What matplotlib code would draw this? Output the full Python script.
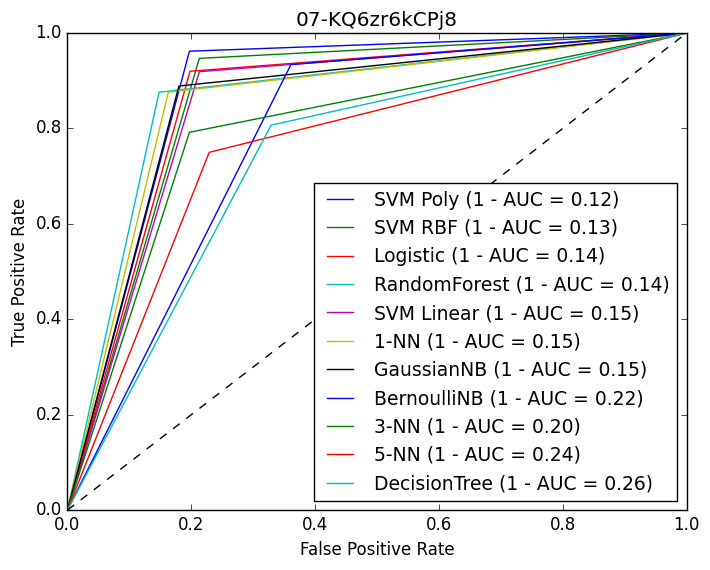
import matplotlib
matplotlib.use("Agg")
import matplotlib.pyplot as plt

names = ["SVM Poly", "SVM RBF", "Logistic", "RandomForest", "SVM Linear", "1-NN",
         "GaussianNB", "BernoulliNB", "3-NN", "5-NN", "DecisionTree"]
one_minus_auc = [0.12, 0.13, 0.14, 0.14, 0.15, 0.15, 0.15, 0.22, 0.20, 0.24, 0.26]
fpr = [0.197, 0.213, 0.198, 0.148, 0.213, 0.163, 0.180, 0.361, 0.197, 0.229, 0.329]
tpr = [0.962, 0.947, 0.920, 0.876, 0.919, 0.876, 0.889, 0.934, 0.792, 0.750, 0.807]
colors = ["b", "g", "r", "c", "m", "y", "k", "b", "g", "r", "c"]

plt.style.use("classic")
fig = plt.figure(figsize=(7.1, 5.7), dpi=100)
ax = fig.add_subplot(111)
for n, a, f, t, c in zip(names, one_minus_auc, fpr, tpr, colors):
    ax.plot([0, f, 1], [0, t, 1], color=c, label=f"{n} (1 - AUC = {a:.2f})")
ax.plot([0, 1], [0, 1], "k--")
ax.set_xlim(0, 1)
ax.set_ylim(0, 1)
ax.set_xlabel("False Positive Rate")
ax.set_ylabel("True Positive Rate")
ax.set_title("07-KQ6zr6kCPj8")
ax.legend(loc="lower right", fontsize=13.5)
fig.subplots_adjust(left=0.095, right=0.967, top=0.942, bottom=0.105)
fig.savefig("out.png")
